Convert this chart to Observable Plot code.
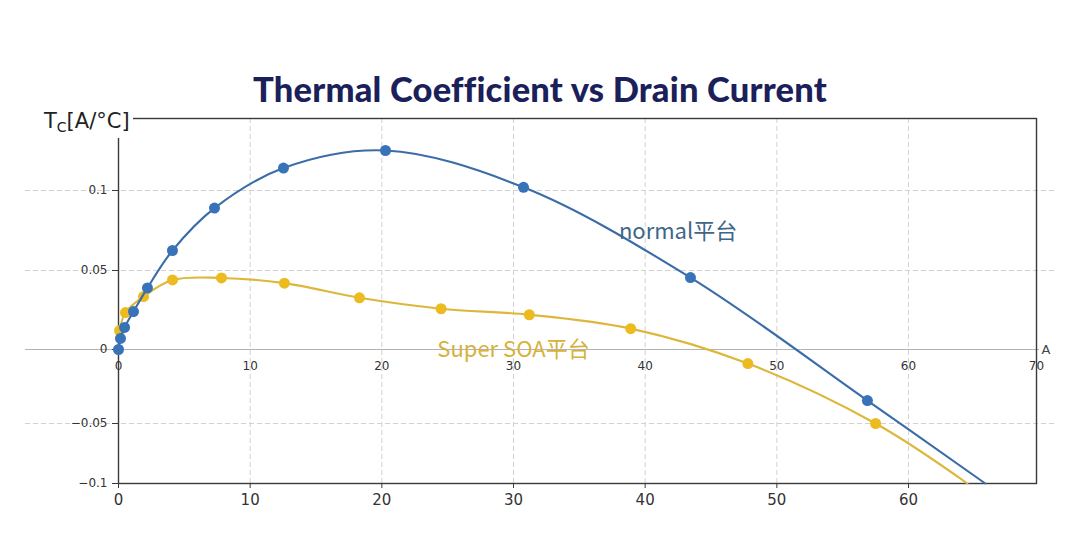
<!DOCTYPE html>
<html><head><meta charset="utf-8">
<script src="https://cdn.jsdelivr.net/npm/d3@7"></script>
<script src="https://cdn.jsdelivr.net/npm/@observablehq/plot@0.6"></script>
<style>
body{margin:0;background:#fff;width:1080px;height:548px;overflow:hidden;position:relative}
#chart{position:absolute;left:0;top:0}
#title{position:absolute;left:0;width:1080px;top:69px;text-align:center;font:900 34.5px Lato, sans-serif;color:#1b1f5a;line-height:40px;letter-spacing:0.2px}
#ylab{position:absolute;left:41px;top:109px;padding:0 3px 4px 3px;background:#fff;font:21px "DejaVu Sans";color:#222;line-height:25px}
#ylab sub{font-size:14px;vertical-align:-4px;line-height:0}
</style></head>
<body>
<div id="chart"></div>
<div id="title">Thermal Coefficient vs Drain Current</div>
<div id="ylab">T<sub>C</sub>[A/°C]</div>
<script>
// Drain current (A) and thermal coefficient (A/°C)
const ampsNormal = [0, 0.15, 0.46, 1.14, 2.2, 4.1, 7.29, 12.53, 20.28, 30.76, 43.44, 56.88];
const tcNormal   = [0, 0.007, 0.014, 0.024, 0.039, 0.0625, 0.089, 0.114, 0.125, 0.102, 0.0455, -0.0345];
const normalTailAmp = 66.0, normalTailTc = -0.1;

const ampsSuper = [0.08, 0.53, 1.9, 4.1, 7.82, 12.6, 18.3, 24.5, 31.2, 38.9, 47.8, 57.5];
const tcSuper   = [0.012, 0.0234, 0.0335, 0.044, 0.0453, 0.042, 0.0327, 0.0258, 0.022, 0.0132, -0.0095, -0.05];
const superTailAmp = 64.6, superTailTc = -0.1;

const xTicksMid = [0, 10, 20, 30, 40, 50, 60, 70];
const xTicksBottom = [0, 10, 20, 30, 40, 50, 60];
const xGrid = [10, 20, 30, 40, 50, 60];
const yTicks = [-0.1, -0.05, 0, 0.05, 0.1];
const yGrid = [-0.05, 0.05, 0.1];
const labelNormal = [{name: "normal平台", amp: 42.5, tc: 0.0738}];
const labelSuper = [{name: "Super SOA平台", amp: 30.0, tc: -0.0005}];
const axisEndLabel = ["A"];

const normalPts = ampsNormal.map((a, i) => ({amp: a, tc: tcNormal[i]}));
const superPts = ampsSuper.map((a, i) => ({amp: a, tc: tcSuper[i]}));
const normalLine = [...normalPts, {amp: normalTailAmp, tc: normalTailTc}];
const superLine = [...superPts, {amp: superTailAmp, tc: superTailTc}];

const fmtY = d => d === 0 ? "0" : (d < 0 ? "\u2212" : "") + Math.abs(d);

const chart = Plot.plot({
  width: 1080,
  height: 548,
  marginLeft: 118,
  marginRight: 44,
  marginTop: 118,
  marginBottom: 65,
  style: {fontFamily: "DejaVu Sans", color: "#333", background: "transparent"},
  x: {type: "linear", domain: [0, 30, 60, 70], range: [118, 513, 908, 1036]},
  y: {type: "linear", domain: [-0.1, -0.05, 0, 0.05, 0.1, 0.145], range: [483, 423, 349, 270, 190, 118]},
  marks: [
    Plot.ruleY(yGrid, {stroke: "#d2d2d2", strokeDasharray: "5,3", insetLeft: -93, insetRight: -19}),
    Plot.ruleX(xGrid, {stroke: "#d2d2d2", strokeDasharray: "5,3"}),
    Plot.ruleY([0], {stroke: "#b3b3b3", strokeWidth: 1.2, insetLeft: -93, insetRight: -3}),
    Plot.frame({stroke: "#3a3a3a", strokeWidth: 1.4}),
    Plot.axisY(yTicks, {tickSize: 6, tickPadding: 5, fontSize: 12, tickFormat: fmtY, label: null, stroke: "#3a3a3a"}),
    Plot.axisX(xTicksBottom, {tickSize: 5, tickPadding: 6, fontSize: 15, label: null, stroke: "#3a3a3a"}),
    Plot.text(xTicksMid, {x: d => d, y: () => 0, dy: 12, lineAnchor: "top", fontSize: 12, fill: "#333"}),
    Plot.text(axisEndLabel, {x: () => xTicksMid[xTicksMid.length - 1], y: () => 0, dx: 5, textAnchor: "start", fontSize: 13, fill: "#444"}),
    Plot.line(superLine, {x: "amp", y: "tc", stroke: "#dcb73a", strokeWidth: 2.1, curve: "catmull-rom"}),
    Plot.dot(superPts, {x: "amp", y: "tc", r: 5.5, fill: "#ebbb1f"}),
    Plot.line(normalLine, {x: "amp", y: "tc", stroke: "#3a6ca8", strokeWidth: 2.1, curve: "catmull-rom"}),
    Plot.dot(normalPts, {x: "amp", y: "tc", r: 5.5, fill: "#3872b8"}),
    Plot.text(labelNormal, {x: "amp", y: "tc", text: "name", fontSize: 22, fill: "#3d6788", fontFamily: "Noto Sans CJK SC"}),
    Plot.text(labelSuper, {x: "amp", y: "tc", text: "name", fontSize: 22, fill: "#d6b23a", fontFamily: "Noto Sans CJK SC"})
  ]
});
document.getElementById("chart").append(chart);
</script>
</body></html>
